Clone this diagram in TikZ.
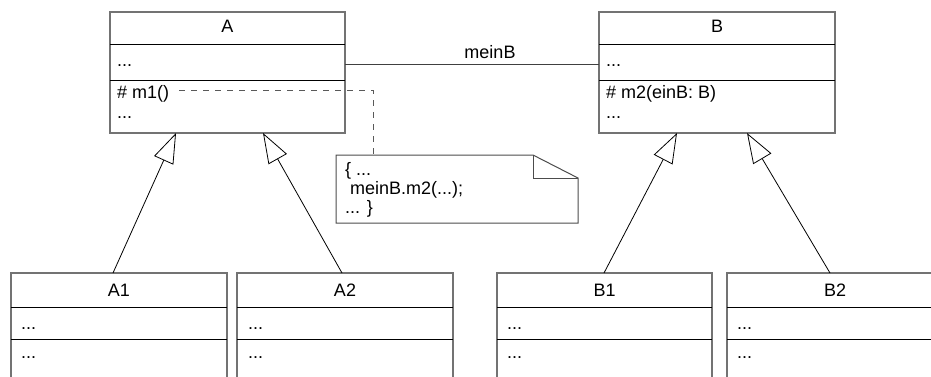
\documentclass[tikz,border=0pt]{standalone}
\usepackage{fontspec}
\setmainfont{Liberation Sans}
\usetikzlibrary{arrows.meta}
\definecolor{boxgray}{gray}{0.45}
\begin{document}
\begin{tikzpicture}[x=1pt,y=-1pt,
  font=\fontsize{18}{21}\selectfont,
  cls/.style={draw=boxgray, line width=1.2pt, minimum height=#1, anchor=north west, inner sep=0pt, outer sep=0pt},
  divider/.style={draw=black, line width=1pt},
  txt/.style={anchor=base west, inner sep=0pt},
  ttl/.style={anchor=base, inner sep=0pt},
  inh/.style={draw=black, line width=0.8pt, -{Triangle[open, length=30pt, width=21pt, line width=0.8pt]}},
  assoc/.style={draw=black!75, line width=1pt},
  dashline/.style={draw=black!65, line width=1pt, dash pattern=on 6pt off 6pt},
  notestyle/.style={draw=black!70, line width=1pt}
]
\useasboundingbox (0,0) rectangle (931,376);
\clip (0,0) rectangle (931,376);

% top classes
\node[cls=121pt, minimum width=235pt] (A) at (110,12) {};
\node[cls=121pt, minimum width=236pt] (B) at (599,12) {};
% bottom classes
\node[cls=140pt, minimum width=216pt] (A1) at (11,273) {};
\node[cls=140pt, minimum width=216pt] (A2) at (237,273) {};
\node[cls=140pt, minimum width=215pt] (B1) at (497,273) {};
\node[cls=140pt, minimum width=216pt] (B2) at (727,273) {};

% dividers
\foreach \n in {A,B}{
  \draw[divider] ([yshift=-32pt]\n.north west) -- ([yshift=-32pt]\n.north east);
  \draw[divider] ([yshift=-68pt]\n.north west) -- ([yshift=-68pt]\n.north east);
}
\foreach \n in {A1,A2,B1,B2}{
  \draw[divider] ([yshift=-34pt]\n.north west) -- ([yshift=-34pt]\n.north east);
  \draw[divider] ([yshift=-66pt]\n.north west) -- ([yshift=-66pt]\n.north east);
}

% texts of A
\node[ttl] (At) at (227.5,32) {A};
\node[txt] (Aa) at (117,66) {...};
\node[txt] (m1) at (117,98) {\# m1()};
\node[txt] (Ab) at (117,118) {...};
% texts of B
\node[ttl] (Bt) at (717,32) {B};
\node[txt] (Ba) at (606,66) {...};
\node[txt] (m2) at (606,98) {\# m2(einB: B)};
\node[txt] (Bb) at (606,118) {...};
% bottom texts
\node[ttl] (A1t) at (119,296) {A1};
\node[txt] (A1a) at (21,329) {...};
\node[txt] (A1b) at (21,358) {...};
\node[ttl] (A2t) at (345,296) {A2};
\node[txt] (A2a) at (248,329) {...};
\node[txt] (A2b) at (248,358) {...};
\node[ttl] (B1t) at (604.5,296) {B1};
\node[txt] (B1a) at (507,329) {...};
\node[txt] (B1b) at (507,358) {...};
\node[ttl] (B2t) at (835,296) {B2};
\node[txt] (B2a) at (737,329) {...};
\node[txt] (B2b) at (737,358) {...};

% association
\draw[assoc] ([yshift=8.5pt]A.east) -- ([yshift=8.5pt]B.west);
\node[ttl] (meinB) at (490,58) {meinB};

% note
\node[minimum width=242pt, minimum height=68pt, anchor=north west, inner sep=0pt, outer sep=0pt] (N) at (336,155) {};
\draw[notestyle] (N.north west) -- ([xshift=-45pt]N.north east) -- ([yshift=-23pt]N.north east)
  -- (N.south east) -- (N.south west) -- cycle;
\draw[notestyle] ([xshift=-45pt]N.north east) -- ([xshift=-45pt,yshift=-23pt]N.north east) -- ([yshift=-23pt]N.north east);
\node[txt] (n1) at (345,175) {\{ ...};
\node[txt] (n2) at (350,194) {meinB.m2(...);};
\node[txt] (n3) at (345,213) {... \}};

% dashed connector
\coordinate (bend) at (373,90);
\draw[dashline] ([xshift=10pt]m1.east |- bend) -- (bend) -- (bend |- N.north);

% inheritance
\draw[inh] ([xshift=-6pt]A1.north) -- ([xshift=-51.5pt]A.south);
\draw[inh] ([xshift=-3pt]A2.north) -- ([xshift=35.5pt]A.south);
\draw[inh] ([xshift=-0.5pt]B1.north) -- ([xshift=-40pt]B.south);
\draw[inh] ([xshift=-5pt]B2.north) -- ([xshift=30pt]B.south);
\end{tikzpicture}
\end{document}
